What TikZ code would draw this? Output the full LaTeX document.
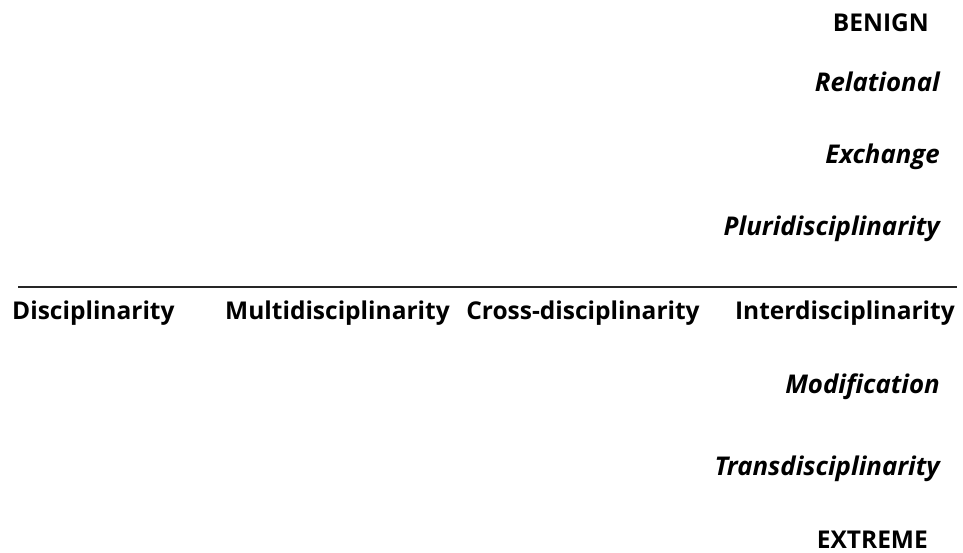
\documentclass[tikz,border=0pt]{standalone}
\usepackage{fontspec}
\setmainfont{Open Sans}
\begin{document}
\begin{tikzpicture}[x=1pt,y=-1pt,
  lbl/.style={inner sep=0pt,font=\fontsize{24.5}{28}\selectfont\bfseries},
  ital/.style={lbl,font=\fontsize{25.8}{29}\selectfont\bfseries\itshape}]
\useasboundingbox[fill=white] (0,0) rectangle (963,553);
% upper half: benign end of the scale
\node[lbl,anchor=base east] (benign) at (929,32) {BENIGN};
\node[ital,anchor=base east] (relational) at (940,92) {Relational};
\node[ital,anchor=base east] (exchange) at (940,164) {Exchange};
\node[ital,anchor=base east] (pluri) at (940,236) {Pluridisciplinarity};
% dividing rule
\coordinate (ruleL) at (18,287);
\coordinate (ruleR) at (957,287);
\draw[line width=1.2pt,black!85] (ruleL) -- (ruleR);
% the four disciplinary modes
\node[lbl,anchor=base west] (disc) at (12,319) {Disciplinarity};
\node[lbl,anchor=base] (multi) at (337.5,319) {Multidisciplinarity};
\node[lbl,anchor=base] (cross) at (583,319) {Cross-disciplinarity};
\node[lbl,anchor=base east] (inter) at (955,319) {Interdisciplinarity};
% lower half: extreme end of the scale
\node[ital,anchor=base east] (modif) at (940,393) {Modification};
\node[ital,anchor=base east] (trans) at (940,475) {Transdisciplinarity};
\node[lbl,anchor=base east] (extreme) at (928,548) {EXTREME};
\end{tikzpicture}
\end{document}
